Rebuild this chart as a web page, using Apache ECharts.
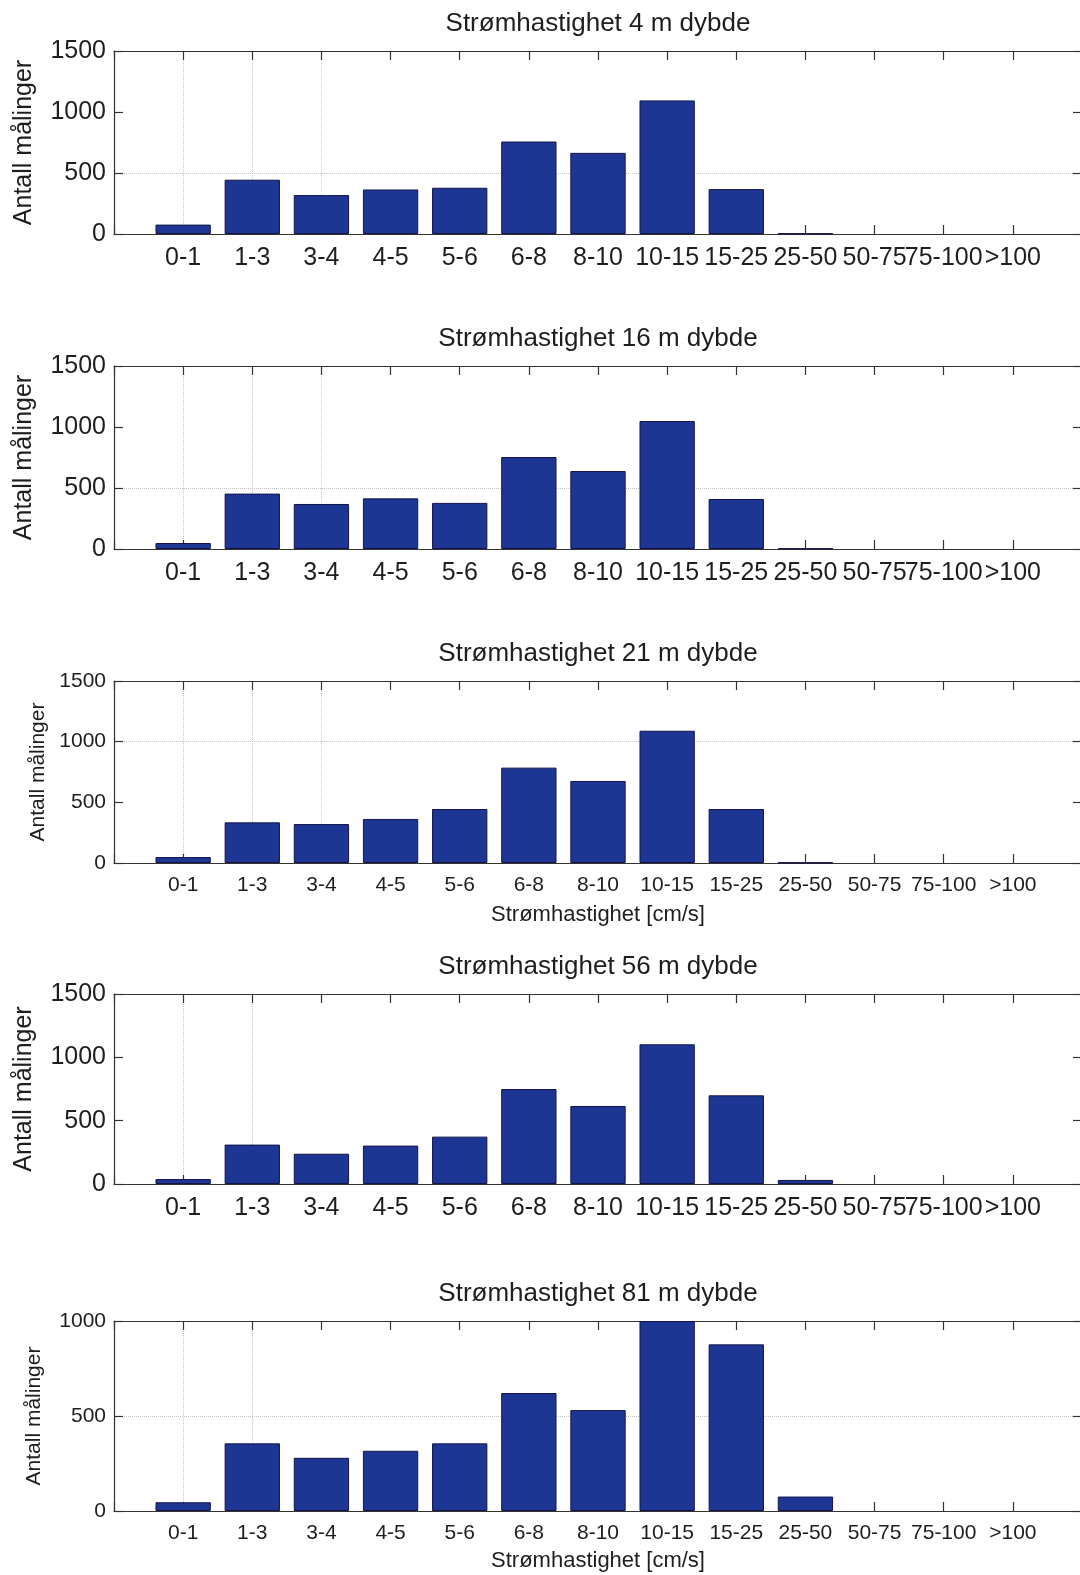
<!DOCTYPE html>
<html>
<head>
<meta charset="utf-8">
<script src="https://cdn.jsdelivr.net/npm/echarts@6/dist/echarts.min.js"></script>
<style>
  html, body { margin: 0; padding: 0; background: #fff; }
  #chart { width: 1080px; height: 1575px; }
</style>
</head>
<body>
<div id="chart"></div>
<script>
// Current speed classes [cm/s]
const categories = ['0-1', '1-3', '3-4', '4-5', '5-6', '6-8', '8-10', '10-15', '15-25', '25-50', '50-75', '75-100', '>100'];

// Number of measurements per speed class at each depth
const depth4  = [77, 445, 319, 365, 379, 758, 665, 1095, 368, 5, 0, 0, 0];
const depth16 = [49, 454, 369, 415, 378, 754, 639, 1049, 410, 5, 0, 0, 0];
const depth21 = [49, 335, 321, 363, 445, 786, 676, 1090, 445, 5, 0, 0, 0];
const depth56 = [39, 311, 239, 303, 374, 750, 616, 1103, 700, 32, 0, 0, 0];
const depth81 = [46, 356, 280, 317, 356, 621, 531, 1000, 877, 76, 0, 0, 0];

const titles = [
  'Strømhastighet 4 m dybde',
  'Strømhastighet 16 m dybde',
  'Strømhastighet 21 m dybde',
  'Strømhastighet 56 m dybde',
  'Strømhastighet 81 m dybde'
];
const yMax = [1500, 1500, 1500, 1500, 1000];
const yLabel = 'Antall målinger';
const xLabel = 'Strømhastighet [cm/s]';

const series = [depth4, depth16, depth21, depth56, depth81];

// Panel layout
const LEFT = 114, RIGHT = -2;
const panels = [
  { top: 51,   height: 183, font: 25, nameGap: 77, xName: false, xNameGap: 0,  hGrid: 1, vGrid: 3 },
  { top: 366,  height: 183, font: 25, nameGap: 77, xName: false, xNameGap: 0,  hGrid: 1, vGrid: 3 },
  { top: 681,  height: 182, font: 21, nameGap: 65, xName: true,  xNameGap: 41, hGrid: 2, vGrid: 3 },
  { top: 994,  height: 190, font: 25, nameGap: 77, xName: false, xNameGap: 0,  hGrid: -1, vGrid: 2 },
  { top: 1321, height: 190, font: 21, nameGap: 69, xName: true,  xNameGap: 39, hGrid: 1, vGrid: 2 }
];

const FONT = '"Liberation Sans", Arial, Helvetica, sans-serif';
const TEXT = '#1e1e1e';
const AXIS = '#333333';
const GRIDC = '#c4c4c4';
const BAR = '#1d3593';

const plotW = 1080 - LEFT - RIGHT;
const barW = 0.8 * plotW / 14;

function gridColors(count, visibleIdx) {
  const arr = [];
  for (let i = 0; i < count; i++) {
    arr.push(visibleIdx(i) ? GRIDC : 'rgba(0,0,0,0)');
  }
  return arr;
}

const frameLine = { show: true, onZero: false, lineStyle: { color: AXIS, width: 1.2 } };
const frameTick = { show: true, inside: true, length: 9, lineStyle: { color: AXIS, width: 1.2 } };

const option = {
  backgroundColor: '#fff',
  animation: false,
  title: [], grid: [], xAxis: [], yAxis: [], series: []
};

panels.forEach((p, i) => {
  option.title.push({
    text: titles[i],
    left: LEFT + plotW / 2,
    top: p.top - 40,
    textAlign: 'center',
    padding: 0,
    textStyle: { fontFamily: FONT, fontSize: 26, fontWeight: 'normal', color: TEXT }
  });
  option.grid.push({
    left: LEFT, right: RIGHT, top: p.top, height: p.height,
    containLabel: false, outerBoundsMode: 'none'
  });

  // bottom axis: speed classes at positions 1..13
  option.xAxis.push({
    gridIndex: i, type: 'value', position: 'bottom',
    min: 0, max: 14, interval: 1,
    name: p.xName ? xLabel : '',
    nameLocation: 'middle', nameGap: p.xNameGap,
    nameTextStyle: { fontFamily: FONT, fontSize: 22, color: TEXT },
    axisLine: frameLine,
    axisTick: frameTick,
    axisLabel: {
      show: true, margin: 12, hideOverlap: false,
      fontFamily: FONT, fontSize: p.font, color: TEXT,
      formatter: v => categories[v - 1] || ''
    },
    splitLine: {
      show: true,
      lineStyle: { type: 'dotted', width: 1, color: gridColors(15, k => k >= 1 && k <= p.vGrid) }
    }
  });
  // top frame edge with mirrored ticks
  option.xAxis.push({
    gridIndex: i, type: 'value', position: 'top',
    min: 0, max: 14, interval: 1,
    axisLine: frameLine,
    axisTick: frameTick,
    axisLabel: { show: false },
    splitLine: { show: false }
  });

  const nY = yMax[i] / 500 + 1;
  option.yAxis.push({
    gridIndex: i, type: 'value', position: 'left',
    min: 0, max: yMax[i], interval: 500,
    name: yLabel, nameLocation: 'middle', nameGap: p.nameGap, nameRotate: 90,
    nameTextStyle: { fontFamily: FONT, fontSize: p.font, color: TEXT },
    axisLine: frameLine,
    axisTick: frameTick,
    axisLabel: {
      margin: 8, fontFamily: FONT, fontSize: p.font, color: TEXT,
      formatter: v => String(v)
    },
    splitLine: {
      show: true,
      lineStyle: { type: 'dotted', width: 1, color: gridColors(nY, k => k === p.hGrid) }
    }
  });
  // right frame edge with mirrored ticks
  option.yAxis.push({
    gridIndex: i, type: 'value', position: 'right',
    min: 0, max: yMax[i], interval: 500,
    axisLine: frameLine,
    axisTick: frameTick,
    axisLabel: { show: false },
    splitLine: { show: false }
  });

  option.series.push({
    type: 'bar',
    name: titles[i],
    xAxisIndex: 2 * i,
    yAxisIndex: 2 * i,
    barWidth: barW,
    itemStyle: { color: BAR, borderColor: '#14144a', borderWidth: 1 },
    // empty classes get no outline so nothing is drawn along the baseline
    data: series[i].map((v, k) => v === 0
      ? { value: [k + 1, v], itemStyle: { borderWidth: 0 } }
      : [k + 1, v])
  });
});

const chart = echarts.init(document.getElementById('chart'), null, { renderer: 'canvas' });
chart.setOption(option);
</script>
</body>
</html>
